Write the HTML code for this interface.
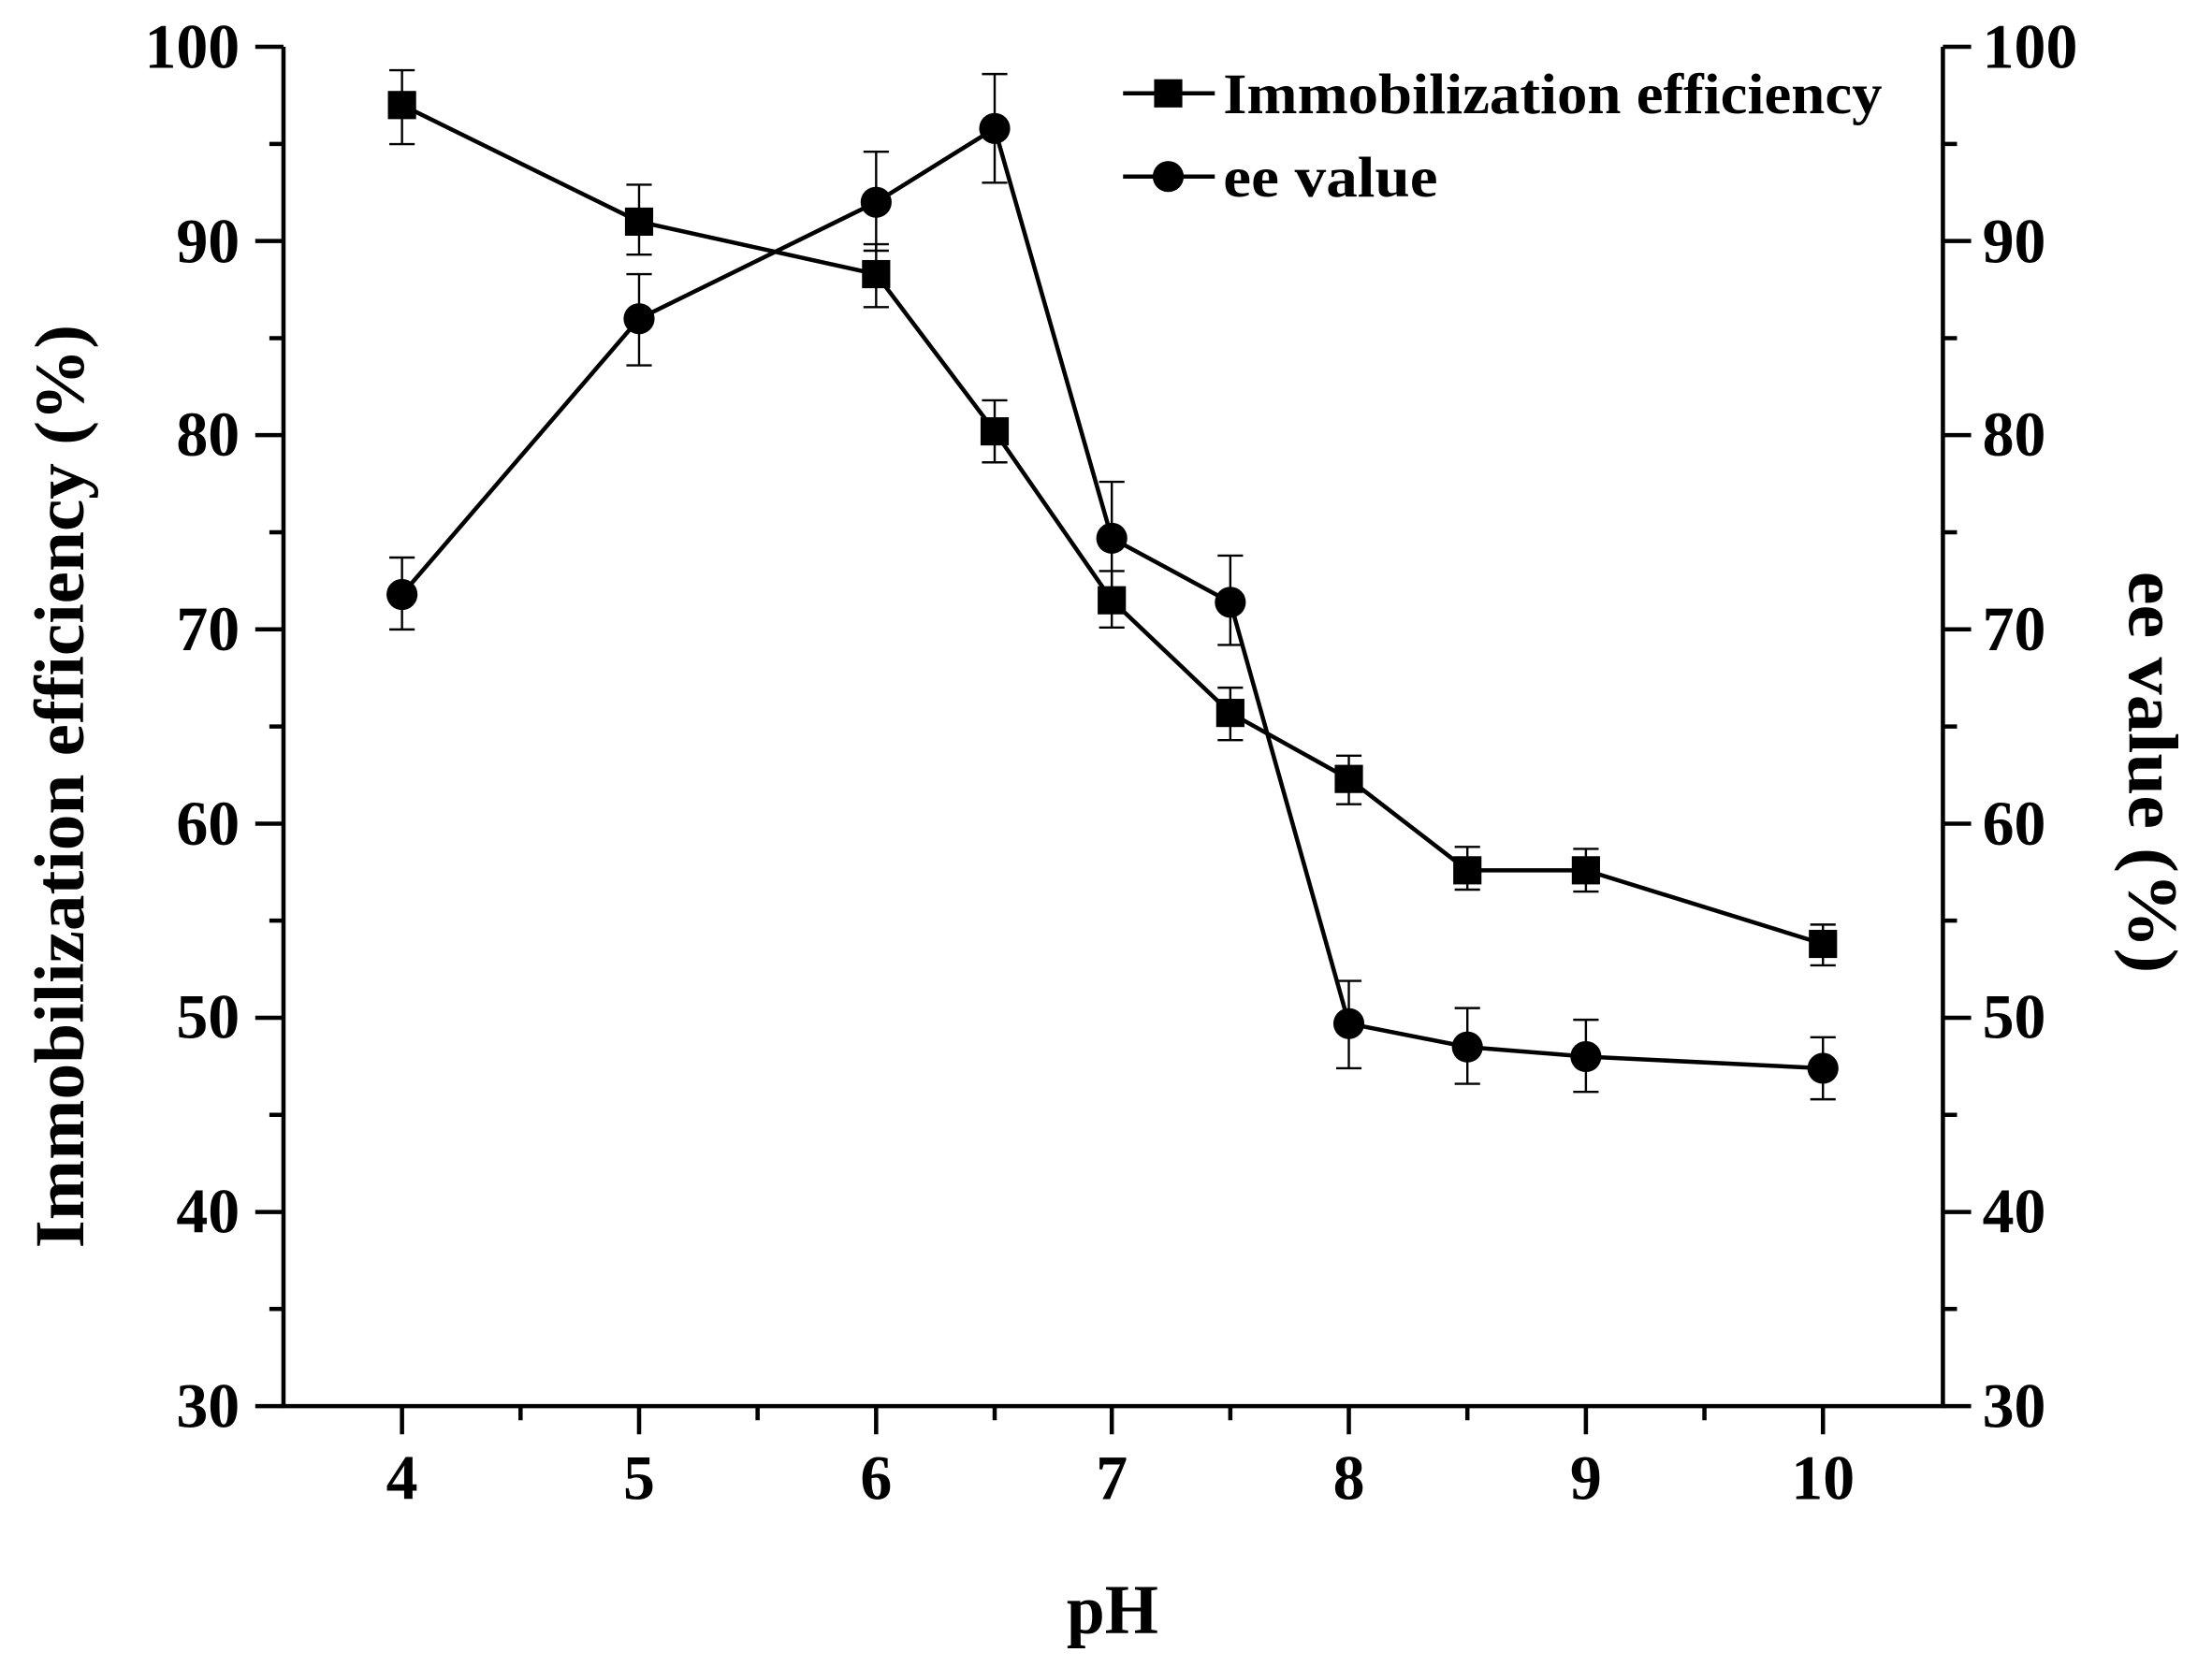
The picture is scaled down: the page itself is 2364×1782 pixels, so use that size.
<!DOCTYPE html>
<html><head><style>html,body{margin:0;padding:0;background:#fff}svg{display:block}</style></head>
<body>
<svg width="2364" height="1782" viewBox="1.1 -0.2 1567.6 1182.2" preserveAspectRatio="none" xmlns="http://www.w3.org/2000/svg" font-family="Liberation Serif, serif" font-weight="bold">
<rect x="0" y="-1" width="1570" height="1185" fill="#fff"/>
<g stroke="#000" stroke-width="3" fill="none">
<path d="M202,33 V997 H1378 V33"/>
<path d="M182,33H202M182,170.7H202M182,308.4H202M182,446.1H202M182,583.9H202M182,721.6H202M182,859.3H202M182,997H202"/>
<path d="M192,101.9H202M192,239.6H202M192,377.3H202M192,515H202M192,652.7H202M192,790.4H202M192,928.1H202"/>
<path d="M1378,33H1398M1378,170.7H1398M1378,308.4H1398M1378,446.1H1398M1378,583.9H1398M1378,721.6H1398M1378,859.3H1398M1378,997H1398"/>
<path d="M1378,101.9H1388M1378,239.6H1388M1378,377.3H1388M1378,515H1388M1378,652.7H1388M1378,790.4H1388M1378,928.1H1388"/>
<path d="M286,997V1017M454,997V1017M622,997V1017M789,997V1017M957,997V1017M1125,997V1017M1293,997V1017"/>
<path d="M370,997V1007M538,997V1007M706,997V1007M873,997V1007M1041,997V1007M1209,997V1007"/>
</g>
<g font-size="45" text-anchor="end">
<text x="171" y="48">100</text><text x="171" y="186">90</text><text x="171" y="323">80</text><text x="171" y="461">70</text><text x="171" y="599">60</text><text x="171" y="736">50</text><text x="171" y="874">40</text><text x="171" y="1012">30</text>
</g>
<g font-size="45" text-anchor="start">
<text x="1406" y="48">100</text><text x="1406" y="186">90</text><text x="1406" y="323">80</text><text x="1406" y="461">70</text><text x="1406" y="599">60</text><text x="1406" y="736">50</text><text x="1406" y="874">40</text><text x="1406" y="1012">30</text>
</g>
<g font-size="45" text-anchor="middle">
<text x="286" y="1063">4</text><text x="454" y="1063">5</text><text x="622" y="1063">6</text><text x="789" y="1063">7</text><text x="957" y="1063">8</text><text x="1125" y="1063">9</text><text x="1293" y="1063">10</text>
</g>
<text x="757" y="1158" font-size="50" textLength="65" lengthAdjust="spacingAndGlyphs">pH</text>
<text transform="translate(60,885) rotate(-90)" font-size="50" textLength="655" lengthAdjust="spacingAndGlyphs">Immobilization efficiency (%)</text>
<text transform="translate(1510,405) rotate(90)" font-size="50" textLength="285" lengthAdjust="spacingAndGlyphs">ee value (%)</text>
<g stroke="#000" stroke-width="1.6">
<path d="M286,102V49.6M277,102H295M277,49.6H295"/>
<path d="M454,180.4V130.8M445,180.4H463M445,130.8H463"/>
<path d="M622,217.6V173M613,217.6H631M613,173H631"/>
<path d="M706,327.7V283.7M697,327.7H715M697,283.7H715"/>
<path d="M789,444.8V404.8M780,444.8H798M780,404.8H798"/>
<path d="M873,524.7V487.5M864,524.7H882M864,487.5H882"/>
<path d="M957,570.1V535.7M948,570.1H966M948,535.7H966"/>
<path d="M1041,630.7V600.4M1032,630.7H1050M1032,600.4H1050"/>
<path d="M1125,632.1V601.8M1116,632.1H1134M1116,601.8H1134"/>
<path d="M1293,684.4V655.5M1284,684.4H1302M1284,655.5H1302"/>
<path d="M286,446.2V395.2M277,446.2H295M277,395.2H295"/>
<path d="M454,258.9V194.2M445,258.9H463M445,194.2H463"/>
<path d="M622,177.6V107.4M613,177.6H631M613,107.4H631"/>
<path d="M706,129.4V52.3M697,129.4H715M697,52.3H715"/>
<path d="M789,418.6V341.5M780,418.6H798M780,341.5H798"/>
<path d="M873,457.2V393.8M864,457.2H882M864,393.8H882"/>
<path d="M957,757.4V695.4M948,757.4H966M948,695.4H966"/>
<path d="M1041,768.4V714.7M1032,768.4H1050M1032,714.7H1050"/>
<path d="M1125,774.1V723M1116,774.1H1134M1116,723H1134"/>
<path d="M1293,779.4V735.4M1284,779.4H1302M1284,735.4H1302"/>
</g>
<g stroke="#000" stroke-width="3" fill="none">
<polyline points="286,74.3 454,157 622,194.2 706,305.7 789,425.5 873,505.4 957,552.2 1041,617 1125,617 1293,669.2"/>
<polyline points="286,421.4 454,225.8 622,143.2 706,90.9 789,381.5 873,426.9 957,725.7 1041,742.3 1125,749.1 1293,757.4"/>
<path d="M797,66H862M797,125H862"/>
</g>
<g fill="#000">
<rect x="276" y="64.3" width="20" height="20"/><rect x="444" y="147" width="20" height="20"/><rect x="612" y="184.2" width="20" height="20"/><rect x="696" y="295.7" width="20" height="20"/><rect x="779" y="415.5" width="20" height="20"/><rect x="863" y="495.4" width="20" height="20"/><rect x="947" y="542.2" width="20" height="20"/><rect x="1031" y="607" width="20" height="20"/><rect x="1115" y="607" width="20" height="20"/><rect x="1283" y="659.2" width="20" height="20"/>
<circle cx="286" cy="421.4" r="11"/><circle cx="454" cy="225.8" r="11"/><circle cx="622" cy="143.2" r="11"/><circle cx="706" cy="90.9" r="11"/><circle cx="789" cy="381.5" r="11"/><circle cx="873" cy="426.9" r="11"/><circle cx="957" cy="725.7" r="11"/><circle cx="1041" cy="742.3" r="11"/><circle cx="1125" cy="749.1" r="11"/><circle cx="1293" cy="757.4" r="11"/>
<rect x="819" y="56" width="20" height="20"/><circle cx="829" cy="125" r="11"/>
</g>
<text x="868" y="80" font-size="41" textLength="467" lengthAdjust="spacingAndGlyphs">Immobilization efficiency</text>
<text x="868" y="139" font-size="41" textLength="152" lengthAdjust="spacingAndGlyphs">ee value</text>
</svg>
</body></html>
